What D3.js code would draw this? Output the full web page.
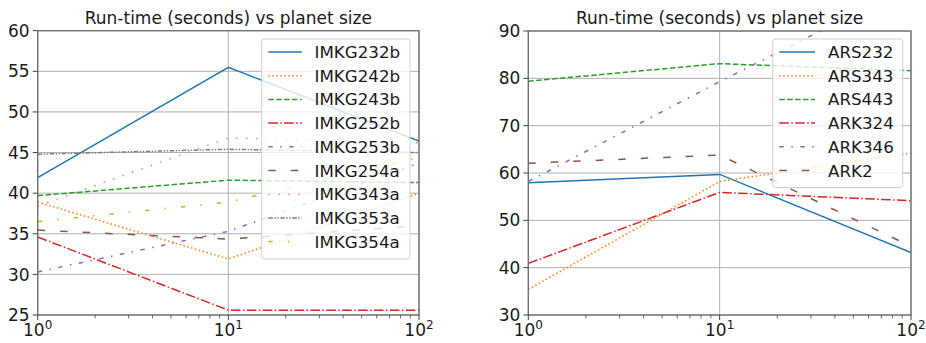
<!DOCTYPE html>
<html>
<head>
<meta charset="utf-8">
<script src="https://cdn.jsdelivr.net/npm/d3@7.9.0/dist/d3.min.js"></script>
<style>
  body { margin: 0; background: #fff; }
  svg { display: block; font-family: "DejaVu Sans", sans-serif; }
</style>
</head>
<body>
<svg id="chart" width="926" height="343"></svg>
<script>
const sizes = [1, 10, 100];

// left panel
const leftNames = ['IMKG232b', 'IMKG242b', 'IMKG243b', 'IMKG252b', 'IMKG253b',
  'IMKG254a', 'IMKG343a', 'IMKG353a', 'IMKG354a'];
const imkg232b = [41.9, 55.5, 46.4];
const imkg242b = [38.9, 31.9, 40.0];
const imkg243b = [39.7, 41.6, 41.3];
const imkg252b = [34.6, 25.6, 25.6];
const imkg253b = [30.3, 35.3, 43.7];
const imkg254a = [35.45, 34.35, 36.0];
const imkg343a = [38.4, 46.8, 46.2];
const imkg353a = [44.8, 45.4, 45.0];
const imkg354a = [36.5, 38.9, 44.4];
const leftTicks = [25, 30, 35, 40, 45, 50, 55, 60];

// right panel
const rightNames = ['ARS232', 'ARS343', 'ARS443', 'ARK324', 'ARK346', 'ARK2'];
const ars232 = [57.95, 59.7, 43.2];
const ars343 = [35.4, 58.2, 64.2];
const ars443 = [79.4, 83.1, 81.6];
const ark324 = [40.9, 55.9, 54.15];
const ark346 = [58.2, 79.3, 99.6];
const ark2 = [62.05, 63.8, 44.5];
const rightTicks = [30, 40, 50, 60, 70, 80, 90];

const title = 'Run-time (seconds) vs planet size';

// matplotlib-ish line styles, in cycle order
const styles = [
  { color: '#1f77b4', dash: null },
  { color: '#ff7f0e', dash: '1.5,2.5' },
  { color: '#2ca02c', dash: '5.5,2.4' },
  { color: '#d62728', dash: '9.6,2.4,1.5,2.4' },
  { color: '#9467bd', dash: '4.5,7.5,1.5,7.5' },
  { color: '#8c564b', dash: '7.5,15' },
  { color: '#e377c2', dash: '1.5,8.5' },
  { color: '#7f7f7f', dash: '4.5,1.5,1.5,1.5,1.5,1.5' },
  { color: '#bcbd22', dash: '4.5,15,1.5,15' }
];

const svg = d3.select('#chart');
const FS = 17;      // tick labels
const LFS = 16.7;   // legend

function drawPanel(id, box, yDomain, yTicks, names, series, legendBox) {
  const g = svg.append('g');
  const x = d3.scaleLog().domain([1, 100]).range([box.x0, box.x1]);
  const y = d3.scaleLinear().domain(yDomain).range([box.y1, box.y0]);

  g.append('clipPath').attr('id', id)
    .append('rect')
    .attr('x', box.x0).attr('y', box.y0)
    .attr('width', box.x1 - box.x0).attr('height', box.y1 - box.y0);

  // grid
  g.selectAll('.gy').data(yTicks).join('line')
    .attr('x1', box.x0).attr('x2', box.x1)
    .attr('y1', d => y(d)).attr('y2', d => y(d))
    .attr('stroke', '#b0b0b0').attr('stroke-width', 1);
  g.selectAll('.gx').data(sizes).join('line')
    .attr('x1', d => x(d)).attr('x2', d => x(d))
    .attr('y1', box.y0).attr('y2', box.y1)
    .attr('stroke', '#b0b0b0').attr('stroke-width', 1);

  // lines
  const line = d3.line().x((d, i) => x(sizes[i])).y(d => y(d));
  series.forEach((vals, i) => {
    g.append('path')
      .attr('d', line(vals))
      .attr('fill', 'none')
      .attr('stroke', styles[i].color)
      .attr('stroke-width', 1.5)
      .attr('stroke-dasharray', styles[i].dash)
      .attr('clip-path', `url(#${id})`);
  });

  // spines
  g.append('rect')
    .attr('x', box.x0).attr('y', box.y0)
    .attr('width', box.x1 - box.x0).attr('height', box.y1 - box.y0)
    .attr('fill', 'none').attr('stroke', '#6e6e6e').attr('stroke-width', 1.3);

  // y ticks
  g.selectAll('.ty').data(yTicks).join('line')
    .attr('x1', box.x0 - 5).attr('x2', box.x0)
    .attr('y1', d => y(d)).attr('y2', d => y(d))
    .attr('stroke', '#444');
  g.selectAll('.ly').data(yTicks).join('text')
    .attr('x', box.x0 - 8).attr('y', d => y(d))
    .attr('dy', '0.36em')
    .attr('text-anchor', 'end')
    .attr('font-size', FS).attr('fill', '#1a1a1a')
    .text(d => d);

  // x ticks (major + minor)
  const minor = [];
  [1, 10].forEach(b => { for (let k = 2; k <= 9; k++) minor.push(b * k); });
  g.selectAll('.tmn').data(minor).join('line')
    .attr('x1', d => x(d)).attr('x2', d => x(d))
    .attr('y1', box.y1).attr('y2', box.y1 + 3.3)
    .attr('stroke', '#444').attr('stroke-width', 0.8);
  g.selectAll('.tmj').data(sizes).join('line')
    .attr('x1', d => x(d)).attr('x2', d => x(d))
    .attr('y1', box.y1).attr('y2', box.y1 + 5)
    .attr('stroke', '#444');
  const xl = g.selectAll('.lx').data(sizes).join('text')
    .attr('x', d => x(d)).attr('y', box.y1 + 20.5)
    .attr('text-anchor', 'middle')
    .attr('font-size', FS).attr('fill', '#1a1a1a');
  xl.append('tspan').text('10');
  xl.append('tspan').attr('font-size', 12).attr('dy', -6.5)
    .text(d => Math.round(Math.log10(d)));

  // title
  g.append('text')
    .attr('x', (box.x0 + box.x1) / 2).attr('y', 24)
    .attr('text-anchor', 'middle')
    .attr('font-size', 17).attr('fill', '#1a1a1a')
    .text(title);

  // legend
  const lg = g.append('g');
  lg.append('rect')
    .attr('x', legendBox.x).attr('y', legendBox.y)
    .attr('width', legendBox.w).attr('height', legendBox.h)
    .attr('rx', 3)
    .attr('fill', 'rgba(255,255,255,0.8)')
    .attr('stroke', '#d0d0d0');
  names.forEach((name, i) => {
    const cy = legendBox.y + 13 + i * 23.7;
    lg.append('line')
      .attr('x1', legendBox.sx0).attr('x2', legendBox.sx1)
      .attr('y1', cy).attr('y2', cy)
      .attr('stroke', styles[i].color)
      .attr('stroke-width', 1.5)
      .attr('stroke-dasharray', styles[i].dash);
    lg.append('text')
      .attr('x', legendBox.tx).attr('y', cy)
      .attr('dy', '0.36em')
      .attr('font-size', LFS).attr('fill', '#1a1a1a')
      .text(name);
  });
}

drawPanel('clipL', { x0: 37.7, x1: 419, y0: 30.7, y1: 315 }, [25, 60], leftTicks,
  leftNames,
  [imkg232b, imkg242b, imkg243b, imkg252b, imkg253b, imkg254a, imkg343a, imkg353a, imkg354a],
  { x: 261.7, y: 39, w: 148.3, h: 220, sx0: 268.3, sx1: 301.7, tx: 314.5 });

drawPanel('clipR', { x0: 528.3, x1: 911, y0: 31, y1: 315 }, [30, 90], rightTicks,
  rightNames,
  [ars232, ars343, ars443, ark324, ark346, ark2],
  { x: 772.7, y: 39, w: 130, h: 148.5, sx0: 779.3, sx1: 815, tx: 828 });
</script>
</body>
</html>
